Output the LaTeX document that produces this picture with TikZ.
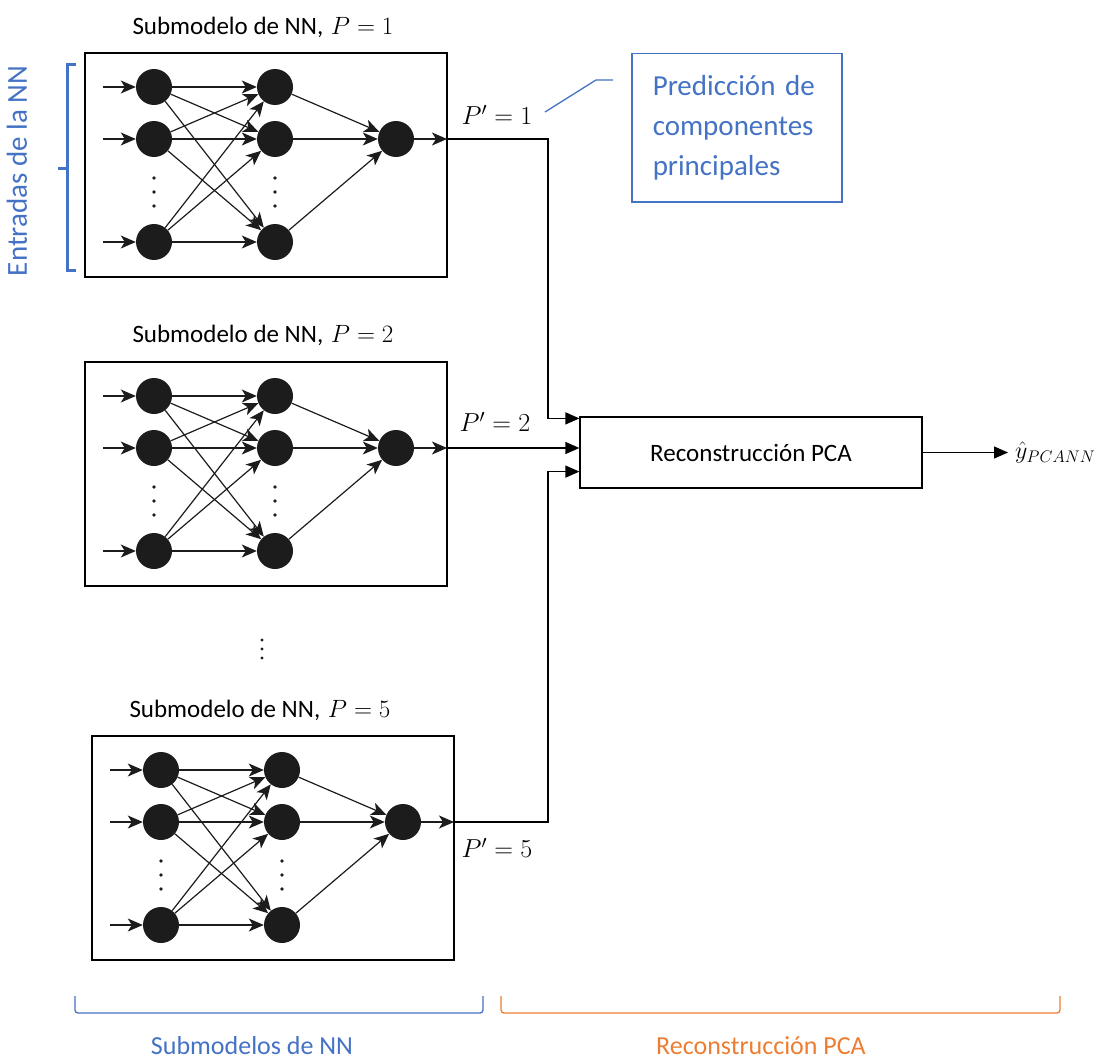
\RequirePackage{fix-cm}
\documentclass[tikz,border=0pt]{standalone}
\usepackage{fontspec}
\setmainfont{Carlito}
\usetikzlibrary{arrows.meta,calc}
\definecolor{accblue}{HTML}{4472C4}
\definecolor{accorange}{HTML}{ED7D31}
\definecolor{ink}{HTML}{1C1C1C}
\newcommand\sz[2]{\fontsize{#1}{#2}\selectfont}

% one NN sub-model: framed three-layer network, origin at the frame's top-left corner
\tikzset{
  net/.pic={
    \draw[netbox] (0,0) rectangle (362,224);
    \foreach \r/\yy in {1/34,2/86,3/189}{
      \node[neuron] (a\r) at (69,\yy) {};
      \node[neuron] (b\r) at (190,\yy) {};
      \coordinate (i\r) at (18,\yy);
    }
    \node[neuron] (c) at (311,86) {};
    \foreach \r in {1,2,3}{
      \draw[syn] (i\r) -- (a\r);
      \foreach \t in {1,2,3}{\draw[syn] (a\r) -- (b\t);}
      \draw[syn] (b\r) -- (c);
    }
    \coordinate (out) at (362,86);
    \draw[syn] (c) -- (out);
    \foreach \yy in {125,139,153}{
      \fill[ink] (69,\yy) circle (1.8);
      \fill[ink] (190,\yy) circle (1.8);
    }
  }
}

\begin{document}
\begin{tikzpicture}[x=1pt,y=-1pt,
  netbox/.style={draw=black,line width=1.5pt},
  neuron/.style={circle,fill=ink,draw=none,minimum size=36pt,inner sep=0pt},
  syn/.style={draw=ink,line width=1.2pt,-{Stealth[length=15pt,width=13pt,inset=4pt]}},
  wire/.style={draw=black,line width=1.2pt},
  into/.style={wire,-{Triangle[length=14pt,width=12pt]}},
  title/.style={font=\sz{25}{30}},
  plabel/.style={font=\sz{26}{30}},
  bracket/.style={line width=1.3pt,rounded corners=3pt}]

\useasboundingbox (0,0) rectangle (1097,1062);

% sub-models
\pic (m1) at (85,53) {net};
\pic (m2) at (85,362) {net};
\pic (m3) at (92,736) {net};

\node[title] (t1) at (264,27) {Submodelo de NN, $\mathsurround=2pt P=1$};
\node[title] (t2) at (264,335) {Submodelo de NN, $\mathsurround=2pt P=2$};
\node[title] (t3) at (261,710) {Submodelo de NN, $\mathsurround=2pt P=5$};

\foreach \yy in {640,649,658}{\fill[ink] (262,\yy) circle (1.7);}

% reconstruction block
\node[draw,line width=1.2pt,minimum width=342pt,minimum height=71pt,font=\sz{25}{30}]
  (pca) at (751,452.5) {Reconstrucción PCA};

\coordinate (in1) at ($(pca.north west)+(0,2)$);
\coordinate (in2) at (pca.west |- m2out);
\coordinate (in3) at ($(pca.south west)+(0,-17)$);
\coordinate (bus) at (548,0);

\draw[into] (m1out) -| (bus |- in1) -- (in1);
\draw[into] (m2out) -- (in2);
\draw[into] (m3out) -| (bus |- in3) -- (in3);

\node[plabel] (p1) at (497,115) {$P'=1$};
\node[plabel] (p2) at (495,422) {$P'=2$};
\node[plabel] (p5) at (497,848) {$P'=5$};

\node[font=\sz{24}{28},anchor=west,inner sep=1pt] (yhat) at (1014,452.5) {$\hat{y}_{PCANN}$};
\draw[into,shorten >=6pt] (pca.east) -- (pca.east -| yhat.west);

% callout
\node[draw=accblue,line width=1.5pt,text=accblue,anchor=north west,text width=168pt,
  inner xsep=21pt,minimum height=148pt,align=left,font=\sz{29}{40}]
  (note) at (631,53) {Predicción de\\componentes\\principales};
\coordinate (lead) at (545,112);
\draw[accblue,line width=1.3pt] (lead) -- (596,80) -- ($(note.north west)+(-18,27)$);

% input bracket
\draw[accblue,line width=3pt] (76,65) -- (67,65) -- (67,270) -- (76,270);
\draw[accblue,line width=3pt] (67,168) -- (58,168);
\node[text=accblue,rotate=90,font=\sz{29}{34}] (inlab) at (17,171) {Entradas de la NN};

% stage brackets
\draw[bracket,accblue] (75,996) -- (75,1013) -- (483,1013) -- (483,996);
\draw[bracket,accorange] (501,996) -- (501,1013) -- (1060,1013) -- (1060,996);
\node[text=accblue,font=\sz{26}{30}] (lab1) at (252,1046) {Submodelos de NN};
\node[text=accorange,font=\sz{26}{30}] (lab2) at (761,1046) {Reconstrucción PCA};

\end{tikzpicture}
\end{document}
